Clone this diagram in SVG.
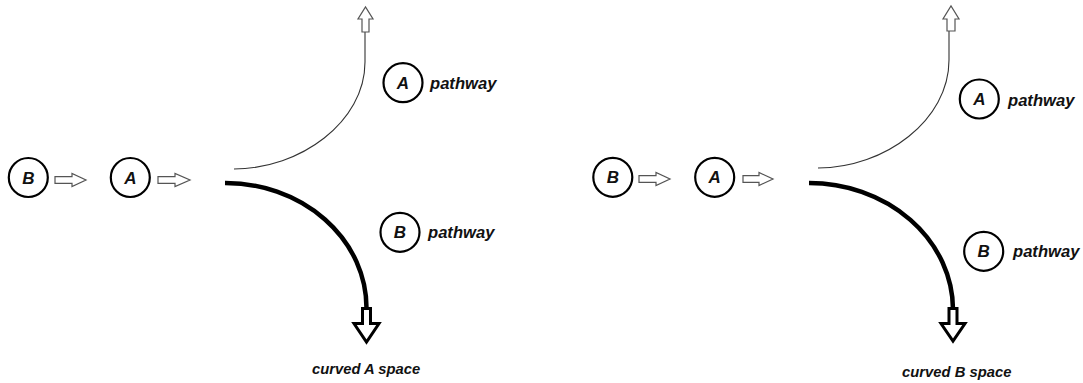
<svg xmlns="http://www.w3.org/2000/svg" width="1083" height="383" viewBox="0 0 1083 383">
<style>
.node circle{fill:#fff;stroke:#000;stroke-width:2.2}
text{font-family:"Liberation Sans",Arial,sans-serif;font-weight:bold;font-style:italic;fill:#111}
.lt{font-size:17px;text-anchor:middle}
.pw{font-size:16.6px}
.cap{font-size:14.8px}
.harrow{fill:#fff;stroke:#555;stroke-width:1.2}
.thin{fill:none;stroke:#333;stroke-width:1.1}
.thick{fill:none;stroke:#000;stroke-width:4.5}
.uparrow{fill:#fff;stroke:#555;stroke-width:1.2}
.downarrow{fill:#fff;stroke:#000;stroke-width:3;stroke-linejoin:miter}
</style>
<rect width="1083" height="383" fill="#fff"/>

<g id="left-B" class="node"><circle cx="28.3" cy="177.5" r="19.5"/><text class="lt" x="28.3" y="183.5">B</text></g>
<g id="left-A" class="node"><circle cx="130.3" cy="177.5" r="19.5"/><text class="lt" x="130.3" y="183.5">A</text></g>
<g id="left-A-pathway" class="node"><circle cx="403" cy="82.7" r="19.5"/><text class="lt" x="403" y="88.7">A</text><text class="pw" x="430" y="88.5">pathway</text></g>
<g id="left-B-pathway" class="node"><circle cx="400" cy="232.3" r="19.5"/><text class="lt" x="400" y="238.3">B</text><text class="pw" x="428" y="238">pathway</text></g>
<g id="left-caption"><text class="cap" x="312" y="374">curved A space</text></g>

<g id="right-B" class="node"><circle cx="612.8" cy="177.3" r="19.5"/><text class="lt" x="612.8" y="183.3">B</text></g>
<g id="right-A" class="node"><circle cx="714.7" cy="177.3" r="19.5"/><text class="lt" x="714.7" y="183.3">A</text></g>
<g id="right-A-pathway" class="node"><circle cx="979.3" cy="99" r="19.5"/><text class="lt" x="979.3" y="105">A</text><text class="pw" x="1008" y="105.5">pathway</text></g>
<g id="right-B-pathway" class="node"><circle cx="983.7" cy="251.3" r="19.5"/><text class="lt" x="983.7" y="257.3">B</text><text class="pw" x="1013" y="256.5">pathway</text></g>
<g id="right-caption"><text class="cap" x="902" y="377">curved B space</text></g>

<g id="connectors">
  <polygon class="harrow" points="55,176.7 72,176.7 72,173.5 86,180 72,186.5 72,183.3 55,183.3"/>
  <polygon class="harrow" points="158,176.7 175,176.7 175,173.5 190,180 175,186.5 175,183.3 158,183.3"/>
  <path class="thin" d="M234,169 C300,169 365,122 365,62 L365,32"/>
  <polygon class="uparrow" points="362,32 369,32 369,19 373,19 365.5,7 358,19 362,19"/>
  <path class="thick" d="M225,183 A141,125 0 0 1 366.5,308"/>
  <polygon class="downarrow" points="362.5,308.5 370.5,308.5 370.5,323.5 379,323.5 366.5,342 354,323.5 362.5,323.5"/>

  <polygon class="harrow" points="639,175.7 656,175.7 656,172.5 670,179 656,185.5 656,182.3 639,182.3"/>
  <polygon class="harrow" points="743,175.7 759,175.7 759,172.5 773,179 759,185.5 759,182.3 743,182.3"/>
  <path class="thin" d="M818,168 C885,168 949,120 949,60 L949,31"/>
  <polygon class="uparrow" points="947,31 955,31 955,19 959,19 951,6 943,19 947,19"/>
  <path class="thick" d="M809,183 A144,127 0 0 1 953,309"/>
  <polygon class="downarrow" points="949,308.5 957,308.5 957,323.5 965,323.5 953,341 941,323.5 949,323.5"/>
</g>
</svg>
